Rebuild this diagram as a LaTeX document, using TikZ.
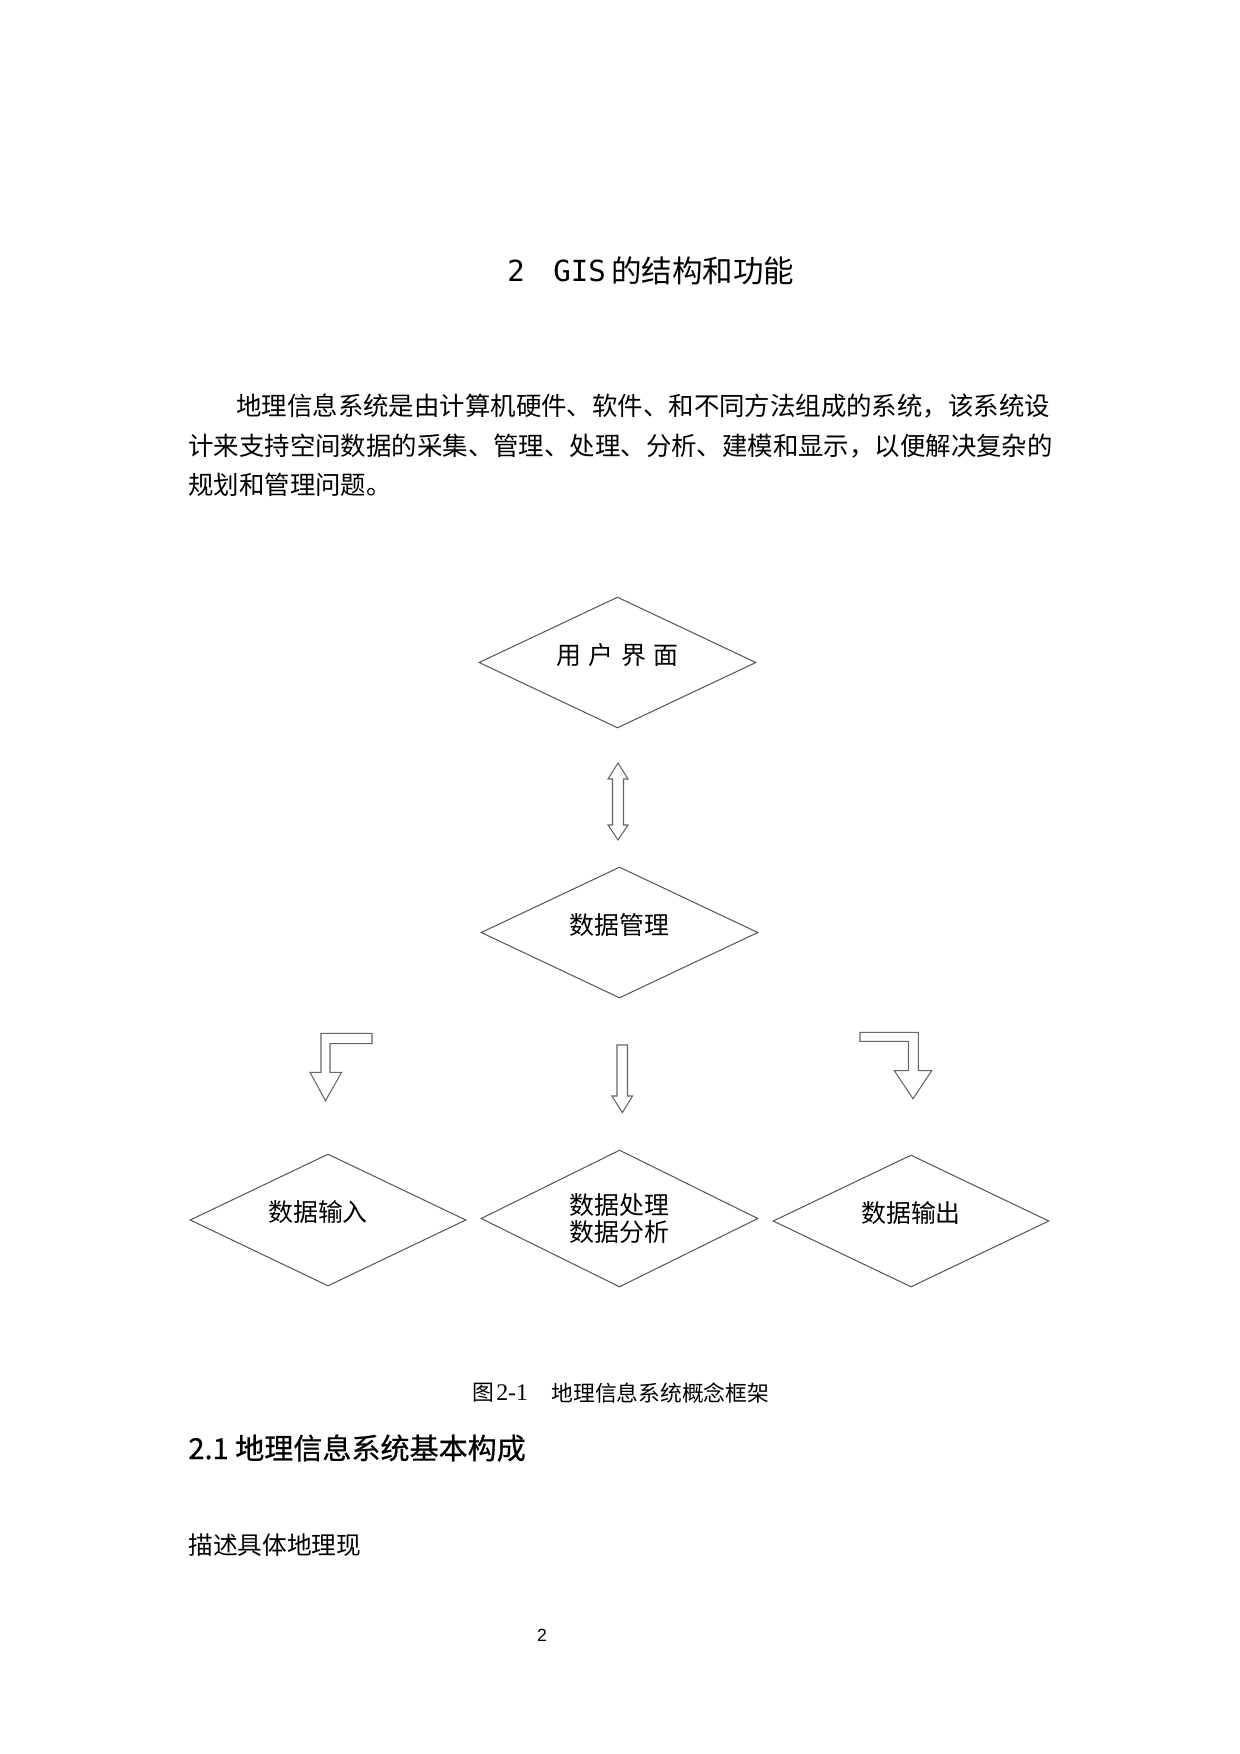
\documentclass[tikz,border=0pt]{standalone}
\usepackage{fontspec}
\setmainfont{Noto Sans CJK SC}
\newfontfamily\cjk{Noto Sans CJK SC}
\newfontfamily\cjkbold[FakeBold=0.6]{Noto Sans CJK SC}
\newfontfamily\mono{DejaVu Sans Mono}
\newfontfamily\lat{Liberation Sans}
\newfontfamily\ser{Liberation Serif}
\usetikzlibrary{shapes.geometric}
\tikzset{
  diambase/.style={shape=diamond, aspect=2, draw=black!65, line width=0.5pt, inner sep=0pt,
    font=\cjk\fontsize{12pt}{13.4pt}\selectfont, align=center},
  diam/.style={diambase, text height=10pt, text depth=8.4pt},
  wide/.style={minimum width=46.91mm, minimum height=22.18mm},
  blockarrow/.style={draw=black!60, line width=0.5pt, line join=miter},
  txt/.style={inner sep=0pt, anchor=west},
  para/.style={txt, font=\cjk\fontsize{12.25pt}{14pt}\selectfont},
}
\begin{document}
\begin{tikzpicture}[x=0.16935mm, y=-0.16935mm]
\path[fill=white, use as bounding box] (0,0) rectangle (1240,1754);

% title
\node[txt, font=\mono\fontsize{14pt}{16pt}\selectfont] (t2) at (507,271) {2};
\node[txt, font=\mono\fontsize{14pt}{16pt}\selectfont] (tgis) at (553,271) {GIS};
\node[txt, font=\cjk\fontsize{14.7pt}{16pt}\selectfont] (tcjk) at (611,271) {的结构和功能};

% paragraph
\node[para] (p1) at (236,406) {地理信息系统是由计算机硬件、软件、和不同方法组成的系统，该系统设};
\node[para] (p2) at (188,446) {计来支持空间数据的采集、管理、处理、分析、建模和显示，以便解决复杂的};
\node[para] (p3) at (188,485) {规划和管理问题。};

% diagram
\node[diam, wide] (ui) at (617.5,662.5) {用\kern3.5pt 户\kern3.5pt 界\kern3.5pt 面};
\node[diam, wide] (dm) at (619.5,932.5) {数据管理};
\node[diam, minimum width=46.74mm, minimum height=22.35mm] (din) at (328,1220) {数据输入\hspace{20\dimexpr0.16935mm\relax}};
\node[diambase, minimum width=46.91mm, minimum height=23.20mm] (dproc) at (619.5,1218.5) {数据处理\\数据分析};
\node[diam, minimum width=46.74mm, minimum height=22.35mm] (dout) at (911,1221) {数据输出};

% double arrow between ui and dm
\draw[blockarrow] (618,763) -- (628,779) -- (623.5,779) -- (623.5,825) -- (628,825)
  -- (618,840) -- (608,825) -- (612.5,825) -- (612.5,779) -- (608,779) -- cycle;

% left bent arrow
\draw[blockarrow] (321,1033.3) -- (372,1033.3) -- (372,1043.7) -- (330,1043.7)
  -- (330,1072.3) -- (341.7,1072.3) -- (325.5,1100.7) -- (310,1072.3) -- (321,1072.3) -- cycle;

% middle arrow
\draw[blockarrow] (617,1045) -- (627.5,1045) -- (627.5,1096) -- (632.5,1096)
  -- (622.3,1112.7) -- (612,1096) -- (617,1096) -- cycle;

% right bent arrow
\draw[blockarrow] (860,1032.3) -- (918.3,1032.3) -- (918.3,1070.7) -- (931.7,1070.7)
  -- (913,1098.7) -- (894.3,1070.7) -- (908.3,1070.7) -- (908.3,1041.3) -- (860,1041.3) -- cycle;

% caption
\node[txt, font=\fontsize{10.5pt}{12pt}\selectfont] (cap1) at (472,1393) {{\cjk 图}\kern1pt{\ser\fontsize{11.5pt}{12pt}\selectfont 2-1}};
\node[txt, font=\cjk\fontsize{10.5pt}{12pt}\selectfont] (cap2) at (551,1393) {地理信息系统概念框架};

% section heading
\node[txt, font=\cjkbold\fontsize{14pt}{16pt}\selectfont] (sec) at (188,1448) {2.1 地理信息系统基本构成};

% body
\node[txt, font=\cjk\fontsize{11.9pt}{14pt}\selectfont] (body) at (188,1545) {描述具体地理现};

% page number
\node[inner sep=0pt, font=\lat\fontsize{8.5pt}{10pt}\selectfont] (pg) at (542,1635) {2};
\end{tikzpicture}
\end{document}
